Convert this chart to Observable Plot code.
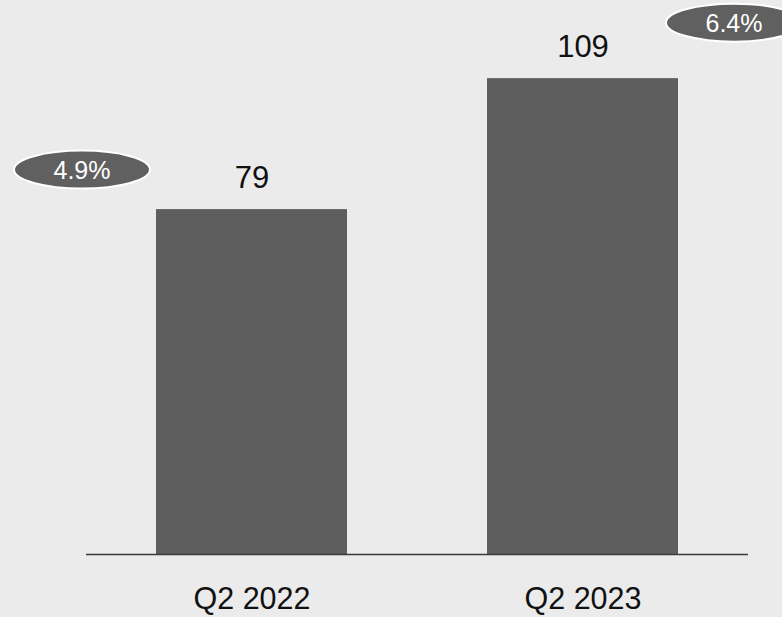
<!DOCTYPE html>
<html>
<head>
<meta charset="utf-8">
<script src="https://cdn.jsdelivr.net/npm/d3@7"></script>
<script src="https://cdn.jsdelivr.net/npm/@observablehq/plot@0.6"></script>
<style>
  html, body { margin: 0; padding: 0; background: #ebebeb; overflow: hidden; }
  #chart svg { display: block; }
</style>
</head>
<body>
<div id="chart"></div>
<script>
const quarters = ["Q2 2022", "Q2 2023"];
const values = [79, 109];
const growthLabels = ["4.9%", "6.4%"];

const data = quarters.map((q, i) => ({quarter: q, value: values[i], growth: growthLabels[i]}));

// ellipse symbol (fixed radii)
const ellipse = {
  draw(ctx) {
    const rx = 68, ry = 19, k = 0.5523;
    ctx.moveTo(rx, 0);
    ctx.bezierCurveTo(rx, ry * k, rx * k, ry, 0, ry);
    ctx.bezierCurveTo(-rx * k, ry, -rx, ry * k, -rx, 0);
    ctx.bezierCurveTo(-rx, -ry * k, -rx * k, -ry, 0, -ry);
    ctx.bezierCurveTo(rx * k, -ry, rx, -ry * k, rx, 0);
    ctx.closePath();
  }
};

const font = "Liberation Sans, Arial, sans-serif";

const badge = (i, dx, dy) => [
  Plot.dot([data[i]], {x: "quarter", y: "value", dx, dy, r: 10, symbol: ellipse,
    fill: "#606060", stroke: "white", strokeWidth: 2}),
  Plot.text([data[i]], {x: "quarter", y: "value", text: "growth", dx, dy: dy + 1,
    fill: "white", fontSize: 25, fontFamily: font})
];

const chart = Plot.plot({
  width: 782,
  height: 617,
  marginTop: 0,
  marginLeft: 86,
  marginRight: 34,
  marginBottom: 63,
  style: {background: "#ebebeb", fontFamily: font, overflow: "hidden"},
  x: {domain: quarters, paddingInner: 0.423, paddingOuter: 0.2115, label: null, tickSize: 0, tickPadding: 33},
  y: {domain: [0, 126.9], axis: null},
  marks: [
    Plot.barY(data, {x: "quarter", y: "value", fill: "#5e5e5e"}),
    Plot.ruleY([0], {stroke: "#3a3a3a", strokeWidth: 1.5}),
    Plot.text(data, {x: "quarter", y: "value", text: d => String(d.value), dy: -32,
      fontSize: 31, fill: "#111", fontFamily: font}),
    ...badge(0, -170, -40),
    ...badge(1, 151, -56),
    Plot.axisX({tickSize: 0, tickPadding: 33, fontSize: 30.5, fill: "#111", label: null, fontFamily: font})
  ]
});
document.getElementById("chart").appendChild(chart);
</script>
</body>
</html>
